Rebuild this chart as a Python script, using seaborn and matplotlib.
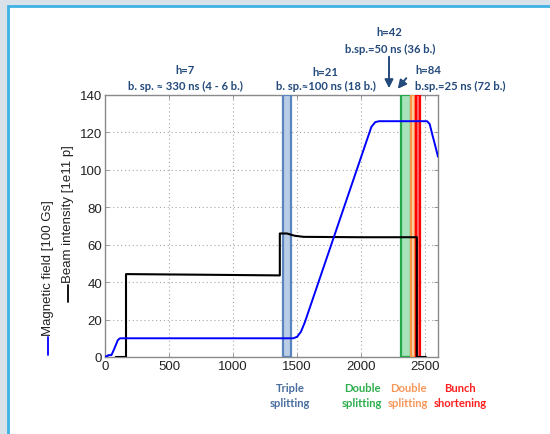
import matplotlib
matplotlib.use("Agg")
import matplotlib.pyplot as plt
import seaborn as sns
import pandas as pd
from matplotlib.patches import Rectangle, FancyArrowPatch
from matplotlib.lines import Line2D

# ---- data ----
field_t = [0, 20, 25, 50, 70, 100, 117, 1470, 1500, 1530, 1560, 2080, 2110, 2140, 2515, 2535, 2555, 2578, 2600]
field_v = [0.3, 0.5, 1.0, 1.0, 4, 9, 10, 10, 10.8, 13.5, 18.5, 123, 125.5, 126, 126, 124.5, 119, 113, 107]

beam_t = [85, 164, 164, 700, 1365, 1365, 1420, 1480, 1550, 2000, 2435, 2435, 2505]
beam_v = [0, 0, 44.3, 44.0, 43.6, 66, 66, 64.8, 64.2, 64.0, 64.0, 0, 0]

bands = {
    "triple": (1390, 1455),
    "double1": (2312, 2386),
    "double2": (2390, 2422),
    "shorten": (2427, 2460),
}

x_ticks = [0, 500, 1000, 1500, 2000, 2500]
y_ticks = [0, 20, 40, 60, 80, 100, 120, 140]

# ---- figure ----
sns.set_theme(style="white")
plt.rcParams['font.family'] = ['Liberation Sans', 'DejaVu Sans']

W, H = 550, 435
fig = plt.figure(figsize=(5.5, 4.35), dpi=100, facecolor="#d9e1e9")

def fx(x):
    return x / W

def fy(y):
    return 1 - y / H

# white panel with blue border
fig.patches.append(Rectangle((fx(8), fy(600)), fx(700), 593 / H,
                             transform=fig.transFigure, facecolor="white",
                             edgecolor="#3fb1e3", linewidth=2.0, zorder=-10))

ax = fig.add_axes([fx(105), fy(358), fx(438) - fx(105), fy(96) - fy(358)])
ax.set_zorder(1)
ax.set_facecolor("white")

df_field = pd.DataFrame({"t": field_t, "v": field_v})
df_beam = pd.DataFrame({"t": beam_t, "v": beam_v})

band_style = {
    "triple": ("#b9cde6", "#5b85bf"),
    "double1": ("#a8e2bb", "#23a84a"),
    "double2": ("#fcd3ad", "#f79646"),
    "shorten": ("#ff6a6a", "#ff0000"),
}
for name, (a, b) in bands.items():
    fc, ec = band_style[name]
    ax.axvspan(a, b, facecolor=fc, edgecolor=ec, linewidth=1.6, zorder=3)

sns.lineplot(data=df_beam, x="t", y="v", ax=ax, color="black", linewidth=1.5,
             sort=False, estimator=None, zorder=4)
sns.lineplot(data=df_field, x="t", y="v", ax=ax, color="#0000ff", linewidth=1.4,
             sort=False, estimator=None, zorder=5)

ax.set_xlim(0, 2600)
ax.set_ylim(0, 140)
ax.set_xticks(x_ticks)
ax.set_yticks(y_ticks)
ax.set_xlabel("")
ax.set_ylabel("")
ax.grid(True, linestyle=(0, (1, 2.5)), color="#a8a8a8", linewidth=0.8)
ax.set_axisbelow(True)
for s in ax.spines.values():
    s.set_color("#8a8a8a")
    s.set_linewidth(1.0)
ax.tick_params(direction="in", length=3, width=0.6, color="#8a8a8a",
               labelsize=9.5, pad=2, top=True, right=True, bottom=True, left=True,
               labelcolor="#222222")

# y labels with coloured line segments
fig.text(fx(48), fy(268), "Magnetic field [100 Gs]", rotation=90, ha="center",
         va="center", fontsize=9.5, color="#222222")
fig.lines.append(Line2D([fx(48), fx(48)], [fy(356), fy(338)], transform=fig.transFigure,
                        color="#0000ff", linewidth=1.3))
fig.text(fx(68), fy(214), "Beam intensity [1e11 p]", rotation=90, ha="center",
         va="center", fontsize=9.5, color="#222222")
fig.lines.append(Line2D([fx(68), fx(68)], [fy(303), fy(286)], transform=fig.transFigure,
                        color="black", linewidth=1.3))

# annotations
ann_c = "#244a7c"
afont = dict(family=["Lato", "DejaVu Sans"], fontweight="bold", fontsize=8.1, color=ann_c)
fig.text(fx(185), fy(71), "h=7", ha="center", va="center", **afont)
fig.text(fx(185), fy(86), "b. sp. \u2248 330 ns (4 - 6 b.)", ha="center", va="center", **afont)
fig.text(fx(325), fy(72), "h=21", ha="center", va="center", **afont)
fig.text(fx(326), fy(86), "b. sp.\u2248100 ns (18 b.)", ha="center", va="center", **afont)
fig.text(fx(389), fy(33), "h=42", ha="center", va="center", **afont)
fig.text(fx(390), fy(49), "b.sp.=50 ns (36 b.)", ha="center", va="center", **afont)
fig.text(fx(415), fy(71), "h=84", ha="left", va="center", **afont)
fig.text(fx(415), fy(86), "b.sp.=25 ns (72 b.)", ha="left", va="center", **afont)

fig.patches.append(FancyArrowPatch((fx(389), fy(55)), (fx(389), fy(92)),
                                   transform=fig.transFigure, arrowstyle="-|>,head_length=5,head_width=2.5",
                                   color=ann_c, linewidth=1.4, mutation_scale=1, zorder=5))
fig.patches.append(FancyArrowPatch((fx(408), fy(77)), (fx(396), fy(92)),
                                   transform=fig.transFigure, arrowstyle="-|>,head_length=5,head_width=2.5",
                                   color=ann_c, linewidth=1.4, mutation_scale=1, zorder=5))

bfont = dict(family=["Lato", "DejaVu Sans"], fontweight="bold", fontsize=8.1)
fig.text(fx(290), fy(389), "Triple", ha="center", va="center", color="#4a6e9e", **bfont)
fig.text(fx(290), fy(404), "splitting", ha="center", va="center", color="#4a6e9e", **bfont)
fig.text(fx(362), fy(389), "Double", ha="center", va="center", color="#2fae4e", **bfont)
fig.text(fx(362), fy(404), "splitting", ha="center", va="center", color="#2fae4e", **bfont)
fig.text(fx(408), fy(389), "Double", ha="center", va="center", color="#f7975a", **bfont)
fig.text(fx(408), fy(404), "splitting", ha="center", va="center", color="#f7975a", **bfont)
fig.text(fx(460), fy(389), "Bunch", ha="center", va="center", color="#ff2020", **bfont)
fig.text(fx(460), fy(404), "shortening", ha="center", va="center", color="#ff2020", **bfont)

fig.savefig("out.png", dpi=100, facecolor=fig.get_facecolor())
